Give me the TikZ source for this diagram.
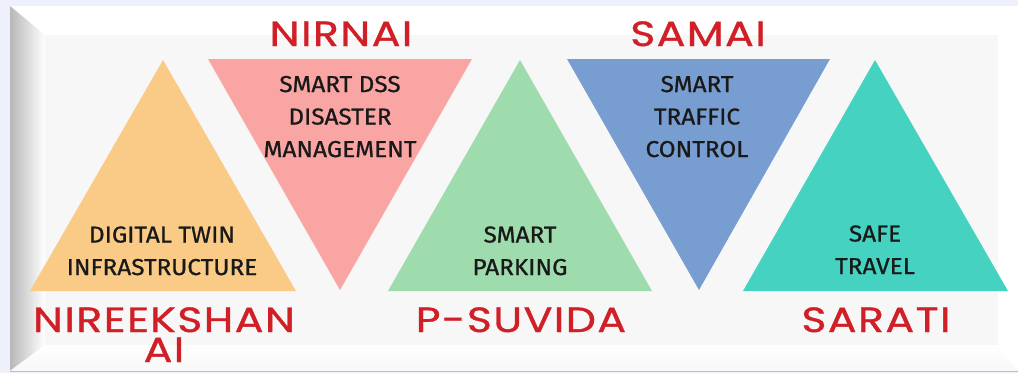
\documentclass[tikz,border=0pt]{standalone}
\usepackage{fontspec}
\newfontfamily\titlefont{Poppins}[FakeStretch=1.22, LetterSpace=4, FakeBold=1]
\newfontfamily\innerfont{Fira Sans}[FakeStretch=1.06, FakeBold=0.8]
\usetikzlibrary{shadings}
\definecolor{bgc}{HTML}{EEF0FB}
\definecolor{panel}{HTML}{F7F7F7}
\definecolor{cyel}{HTML}{F9CB86}
\definecolor{cpink}{HTML}{F8A5A4}
\definecolor{cgreen}{HTML}{9FDCAD}
\definecolor{cblue}{HTML}{789ED1}
\definecolor{cteal}{HTML}{45D2C1}
\definecolor{cred}{HTML}{D01F27}
\tikzset{
  title/.style={font=\titlefont\fontsize{35}{30}\selectfont, text=cred, inner sep=0pt, anchor=base, align=center},
  inner/.style={font=\innerfont\fontsize{23}{32.5}\selectfont, text=black!90, inner sep=0pt, align=center, anchor=base},
}
\begin{document}
\begin{tikzpicture}[x=1pt,y=-1pt]
\useasboundingbox (0,0) rectangle (1018,373);
\fill[bgc] (0,0) rectangle (1018,373);
% frame
\fill[white] (10,6) rectangle (1018,371);
\shade[left color=black!28, right color=white] (10,6) -- (45,35) -- (45,345) -- (10,371) -- cycle;
\shade[top color=white, bottom color=black!3] (45,345) -- (998,345) -- (1018,371) -- (10,371) -- cycle;
\fill[panel] (45,35) rectangle (998,345);
\draw[black!25, line width=1pt] (10,371) -- (1018,371);
% triangles
\fill[cyel] (163,60) -- (296,291) -- (30,291) -- cycle;
\fill[cpink] (208,59) -- (472,59) -- (340,290) -- cycle;
\fill[cgreen] (520,60) -- (652,291) -- (388,291) -- cycle;
\fill[cblue] (567,59) -- (830,59) -- (699,290) -- cycle;
\fill[cteal] (875,60) -- (1008,291) -- (743,291) -- cycle;
% titles
\node[title] (nirnai) at (341,46) {NIRNAI};
\node[title] (samai) at (698,46) {SAMAI};
\node[title] (nireekshan) at (164,362) {NIREEKSHAN\\AI};
\node[title] (psuvida) at (521,332) {P-SUVIDA};
\node[title] (sarati) at (876,332) {SARATI};
% inner texts (anchor = baseline of last line)
\node[inner] (dss) at (340,157) {SMART DSS\\DISASTER\\MANAGEMENT};
\node[inner] (twin) at (162,275) {DIGITAL TWIN\\INFRASTRUCTURE};
\node[inner] (park) at (520,275) {SMART\\PARKING};
\node[inner] (traffic) at (697,157) {SMART\\TRAFFIC\\CONTROL};
\node[inner] (safe) at (875,274) {SAFE\\TRAVEL};
\end{tikzpicture}
\end{document}
